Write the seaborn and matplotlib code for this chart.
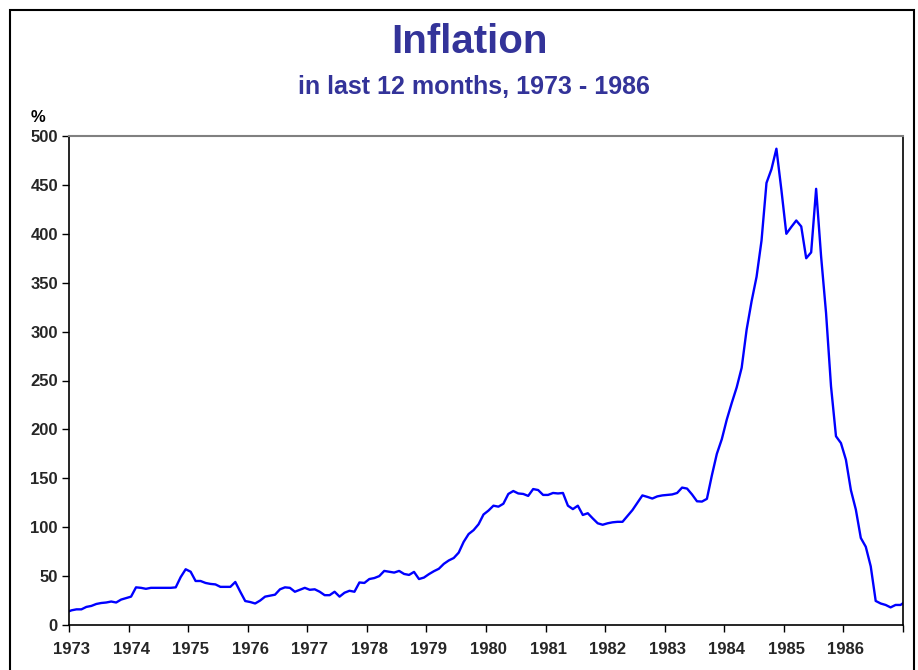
import numpy as np
import pandas as pd
import matplotlib
matplotlib.use("Agg")
import matplotlib.pyplot as plt
import seaborn as sns

# Monthly 12-month inflation (%)
start_year = 1972
start_month = 12  # first value is Dec 1972 (clipped at left edge)
values = [
    13,
    # 1973
    15, 16, 16, 18.5, 19.5, 21.5, 22.5, 23, 24, 23, 26, 27.5,
    # 1974
    29, 38.5, 38, 37, 38, 38, 38, 38, 38, 38.5, 49, 57,
    # 1975
    54.5, 45, 45, 43, 42, 41.5, 39, 39, 39, 44, 34, 24.5,
    # 1976
    23.5, 22, 25, 29, 30, 31, 36.5, 38.5, 38, 34, 36, 38,
    # 1977
    36, 36.5, 34, 30.5, 30.5, 34, 29, 33, 35, 34, 43.5, 43,
    # 1978
    47, 48, 50, 55.3, 54.5, 53.6, 55.3, 52.2, 51.2, 54.3, 47, 48.5,
    # 1979
    52, 55, 57.5, 62.5, 66, 68.5, 74, 85, 93, 97, 103, 113,
    # 1980
    117, 122, 121, 124, 134, 137, 134.5, 134, 132, 139, 138, 133,
    # 1981
    133, 135, 134.5, 135, 122, 118.5, 122, 112.5, 114.3, 109, 104, 102.5,
    # 1982
    104, 105, 105.5, 105.5, 111.5, 117.5, 125, 132.5, 131, 129.3, 131.5, 132.5,
    # 1983
    133, 133.5, 135, 140.5, 139.5, 133.5, 126.5, 126.2, 129, 153, 175, 190,
    # 1984
    210, 227, 243, 263, 302, 331, 356, 393, 452, 466, 487, 445,
    # 1985
    400, 407, 413.6, 407.5, 375, 381, 446, 377, 319, 244, 193, 186,
    # 1986
    169, 138, 118, 89, 80, 60, 24.6, 22, 20.5, 18, 20.5, 20.5,
    # Jan 1987 (clipped at right edge)
    24,
]
year_labels = [str(y) for y in range(1973, 1987)]
y_ticks = list(range(0, 501, 50))

months_index = np.arange(len(values))
# position of each month at the centre of its month slot
xpos = start_year + (start_month - 1 + months_index + 0.5) / 12.0
df = pd.DataFrame({"t": xpos, "inflation": values})

sns.set_style("white")
plt.rcParams["font.family"] = ["Liberation Sans", "DejaVu Sans"]

W, H = 918, 670
fig = plt.figure(figsize=(W / 100, H / 100), dpi=100)
ax = fig.add_axes([69 / W, (H - 625) / H, (903 - 69) / W, (625 - 136) / H])

sns.lineplot(data=df, x="t", y="inflation", ax=ax, color="#0000FF",
             linewidth=1.7, clip_on=True)

ax.set_xlim(1973, 1987)
ax.set_ylim(0, 500)
ax.set_xlabel("")
ax.set_ylabel("")

# major ticks at year boundaries (no labels), labels at Jan categories
ax.set_xticks(np.arange(1973, 1988))
ax.set_xticklabels([])
ax.set_xticks([int(y) + 0.5 / 12 for y in year_labels], minor=True)
ax.set_xticklabels(year_labels, minor=True, fontsize=12, fontweight="bold")
ax.tick_params(axis="x", which="major", direction="out", length=5, width=1,
               color="black", bottom=True)
ax.tick_params(axis="x", which="minor", length=0, pad=12, bottom=True)

ax.set_yticks(y_ticks)
ax.set_yticklabels([str(v) for v in y_ticks], fontsize=12, fontweight="bold")
ax.tick_params(axis="y", direction="out", length=5, width=1, color="black",
               left=True, pad=3)

for side in ["left", "bottom", "right"]:
    ax.spines[side].set_color("black")
    ax.spines[side].set_linewidth(1.2)
ax.spines["top"].set_color("#808080")
ax.spines["top"].set_linewidth(1.5)

fig.text(470 / W, 1 - 42 / H, "Inflation", ha="center", va="center",
         fontsize=29, fontweight="bold", color="#333399")
fig.text(474 / W, 1 - 87 / H, "in last 12 months, 1973 - 1986", ha="center",
         va="center", fontsize=18, fontweight="bold", color="#333399")
fig.text(38 / W, 1 - 117 / H, "%", ha="center", va="center",
         fontsize=12, fontweight="bold", color="black")

# outer chart frame
frame = plt.Rectangle((10 / W, -0.05), (914 - 10) / W, 1 - 10 / H + 0.05,
                      transform=fig.transFigure, fill=False,
                      edgecolor="black", linewidth=1.5)
fig.add_artist(frame)

fig.savefig("out.png", dpi=100, facecolor="white")
